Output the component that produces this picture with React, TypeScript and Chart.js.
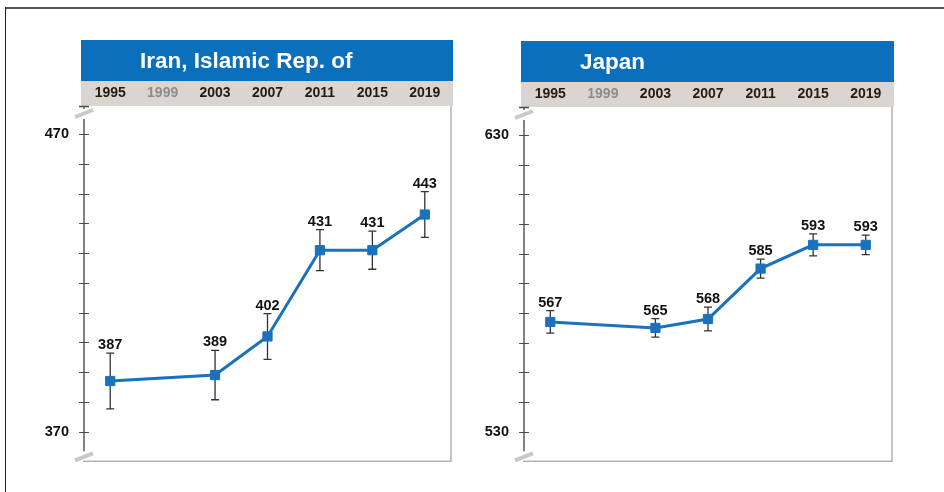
import React, { useEffect, useRef } from 'react';
import { Chart, registerables } from 'chart.js';

Chart.register(...registerables);

const years = ['1995', '1999', '2003', '2007', '2011', '2015', '2019'];
const iranScores = [387, null, 389, 402, 431, 431, 443];
const iranErrors = [9.4, null, 8.3, 7.7, 6.9, 6.4, 7.7];
const japanScores = [567, null, 565, 568, 585, 593, 593];
const japanErrors = [3.8, null, 3.1, 4.0, 3.2, 3.7, 3.3];
const iranTickLabels = [370, 470];
const japanTickLabels = [530, 630];
const iranRange = [360, 479.5];
const japanRange = [520, 639.5];

const FONT = '"Liberation Sans", Arial, Helvetica, sans-serif';
const BLUE = '#0b6fbb';
const LINE_BLUE = '#1a71be';
const BAND = '#dbd5d1';

const panelPlugin = {
  id: 'panelDeco',
  beforeDraw(chart: any, _args: any, opts: any) {
    const { ctx, chartArea } = chart;
    const xs = chart.scales.x;
    const left = chartArea.left - 3;
    const w = chartArea.right - chartArea.left + 5;
    ctx.save();
    ctx.fillStyle = BLUE;
    ctx.fillRect(left, xs.top - opts.headerHeight, w, opts.headerHeight);
    ctx.fillStyle = BAND;
    ctx.fillRect(left, xs.top, w, xs.bottom - xs.top);
    ctx.fillStyle = '#ffffff';
    ctx.font = 'bold 22.5px ' + FONT;
    ctx.textAlign = 'left';
    ctx.textBaseline = 'alphabetic';
    ctx.fillText(opts.title, left + 59, xs.top - opts.headerHeight + 28);
    ctx.restore();
  },
  beforeDatasetsDraw(chart: any, _args: any, opts: any) {
    const { ctx, chartArea } = chart;
    const xs = chart.scales.x;
    const ys = chart.scales.y;
    const ax = chartArea.left;
    const top = chartArea.top;
    const bottom = chartArea.bottom;
    ctx.save();
    // plot frame right and bottom
    ctx.strokeStyle = '#b3b3b3';
    ctx.lineWidth = 1.5;
    ctx.beginPath();
    ctx.moveTo(chartArea.right, top);
    ctx.lineTo(chartArea.right, bottom);
    ctx.lineTo(ax - 1, bottom);
    ctx.stroke();
    // y axis line (broken)
    ctx.strokeStyle = '#4d4d4d';
    ctx.lineWidth = 1.4;
    ctx.beginPath();
    ctx.moveTo(ax, top);
    ctx.lineTo(ax, top + 3);
    ctx.moveTo(ax - 5, top + 0.5);
    ctx.lineTo(ax + 5, top + 0.5);
    ctx.moveTo(ax, top + 13);
    ctx.lineTo(ax, bottom - 10);
    ctx.stroke();
    // ticks
    const [lo, hi] = opts.tickLabels;
    ctx.lineWidth = 1.1;
    ctx.beginPath();
    ys.ticks.forEach((t: any) => {
      const v = t.value;
      if (v >= lo && v <= hi && Math.abs(v % 10) < 1e-6) {
        const py = Math.round(ys.getPixelForValue(v)) + 0.5;
        ctx.moveTo(ax - 5, py);
        ctx.lineTo(ax + 5, py);
      }
    });
    ctx.stroke();
    // break marks
    ctx.strokeStyle = '#c9c9c9';
    ctx.lineWidth = 4;
    ctx.lineCap = 'butt';
    ctx.beginPath();
    ctx.moveTo(ax - 9, top + 11);
    ctx.lineTo(ax + 9, top + 4);
    ctx.moveTo(ax - 9, bottom - 1);
    ctx.lineTo(ax + 9, bottom - 8);
    ctx.stroke();
    // error bars
    const scores: (number | null)[] = opts.scores;
    const errors: (number | null)[] = opts.errors;
    ctx.strokeStyle = '#333333';
    ctx.lineWidth = 1.3;
    ctx.beginPath();
    scores.forEach((v, i) => {
      if (v == null || errors[i] == null) return;
      const e = errors[i] as number;
      const x = xs.getPixelForValue(i);
      const y1 = ys.getPixelForValue(v + e);
      const y2 = ys.getPixelForValue(v - e);
      ctx.moveTo(x, y1);
      ctx.lineTo(x, y2);
      ctx.moveTo(x - 4, y1);
      ctx.lineTo(x + 4, y1);
      ctx.moveTo(x - 4, y2);
      ctx.lineTo(x + 4, y2);
    });
    ctx.stroke();
    ctx.restore();
  },
  afterDatasetsDraw(chart: any, _args: any, opts: any) {
    const { ctx } = chart;
    const xs = chart.scales.x;
    const ys = chart.scales.y;
    const scores: (number | null)[] = opts.scores;
    const errors: (number | null)[] = opts.errors;
    ctx.save();
    ctx.fillStyle = '#111111';
    ctx.font = 'bold 14.5px ' + FONT;
    ctx.textAlign = 'center';
    ctx.textBaseline = 'alphabetic';
    scores.forEach((v, i) => {
      if (v == null) return;
      const e = (errors[i] as number) || 0;
      const x = xs.getPixelForValue(i);
      const y1 = ys.getPixelForValue(v + e);
      ctx.fillText(String(v), x, y1 - 4);
    });
    ctx.restore();
  },
};

type PanelProps = {
  title: string;
  scores: (number | null)[];
  errors: (number | null)[];
  tickLabels: number[];
  range: number[];
  left: number;
  top: number;
  pad: { top: number; right: number; bottom: number };
};

function Panel(props: PanelProps) {
  const ref = useRef<HTMLCanvasElement | null>(null);
  useEffect(() => {
    if (!ref.current) return;
    const chart = new Chart(ref.current, {
      type: 'line',
      data: {
        labels: years,
        datasets: [
          {
            data: props.scores as any,
            borderColor: LINE_BLUE,
            backgroundColor: LINE_BLUE,
            borderWidth: 3,
            pointStyle: 'rect',
            pointRadius: 6.5,
            pointBackgroundColor: LINE_BLUE,
            pointBorderColor: LINE_BLUE,
            pointBorderWidth: 1,
            spanGaps: true,
            tension: 0,
            clip: false as any,
          },
        ],
      },
      options: {
        animation: false,
        responsive: false,
        maintainAspectRatio: false,
        layout: { padding: { top: props.pad.top, right: props.pad.right, bottom: props.pad.bottom, left: 0 } },
        scales: {
          x: {
            type: 'category',
            position: 'top',
            offset: true,
            grid: { display: false, drawTicks: false },
            border: { display: false },
            ticks: {
              autoSkip: false,
              maxRotation: 0,
              padding: 4,
              font: { family: FONT, size: 14, weight: 'bold' },
              color: (c: any) => (c.index === 1 ? '#8c8c8c' : '#221a14'),
            },
            afterFit: (s: any) => {
              s.height = 25;
            },
          },
          y: {
            type: 'linear',
            min: props.range[0],
            max: props.range[1],
            grid: { display: false, drawTicks: false },
            border: { display: false },
            ticks: {
              stepSize: 10,
              autoSkip: false,
              padding: 15,
              font: { family: FONT, size: 14.5, weight: 'bold' },
              color: '#111111',
              callback: (v: any) => (props.tickLabels.includes(Number(v)) ? String(v) : ''),
            },
            afterFit: (s: any) => {
              s.width = 44;
            },
          },
        },
        plugins: {
          legend: { display: false },
          tooltip: { enabled: false },
          title: { display: false },
          panelDeco: {
            title: props.title,
            headerHeight: 41,
            scores: props.scores,
            errors: props.errors,
            tickLabels: props.tickLabels,
          },
        } as any,
      },
      plugins: [panelPlugin as any],
    });
    return () => chart.destroy();
  }, []);
  return (
    <canvas
      ref={ref}
      width={420}
      height={455}
      style={{ position: 'absolute', left: props.left, top: props.top, width: 420, height: 455 }}
    />
  );
}

export default function App() {
  return (
    <div
      style={{
        position: 'fixed',
        left: 0,
        top: 0,
        width: 944,
        height: 492,
        background: '#ffffff',
        overflow: 'hidden',
      }}
    >
      <div style={{ position: 'absolute', left: 5, top: 7, width: 939, height: 2, background: '#555555' }} />
      <div style={{ position: 'absolute', left: 5, top: 7, width: 1, height: 485, background: '#222222' }} />
      <Panel
        title="Iran, Islamic Rep. of"
        scores={iranScores}
        errors={iranErrors}
        tickLabels={iranTickLabels}
        range={iranRange}
        left={40}
        top={30}
        pad={{ top: 51, right: 9, bottom: 23 }}
      />
      <Panel
        title="Japan"
        scores={japanScores}
        errors={japanErrors}
        tickLabels={japanTickLabels}
        range={japanRange}
        left={480}
        top={30}
        pad={{ top: 52, right: 8, bottom: 22 }}
      />
    </div>
  );
}
